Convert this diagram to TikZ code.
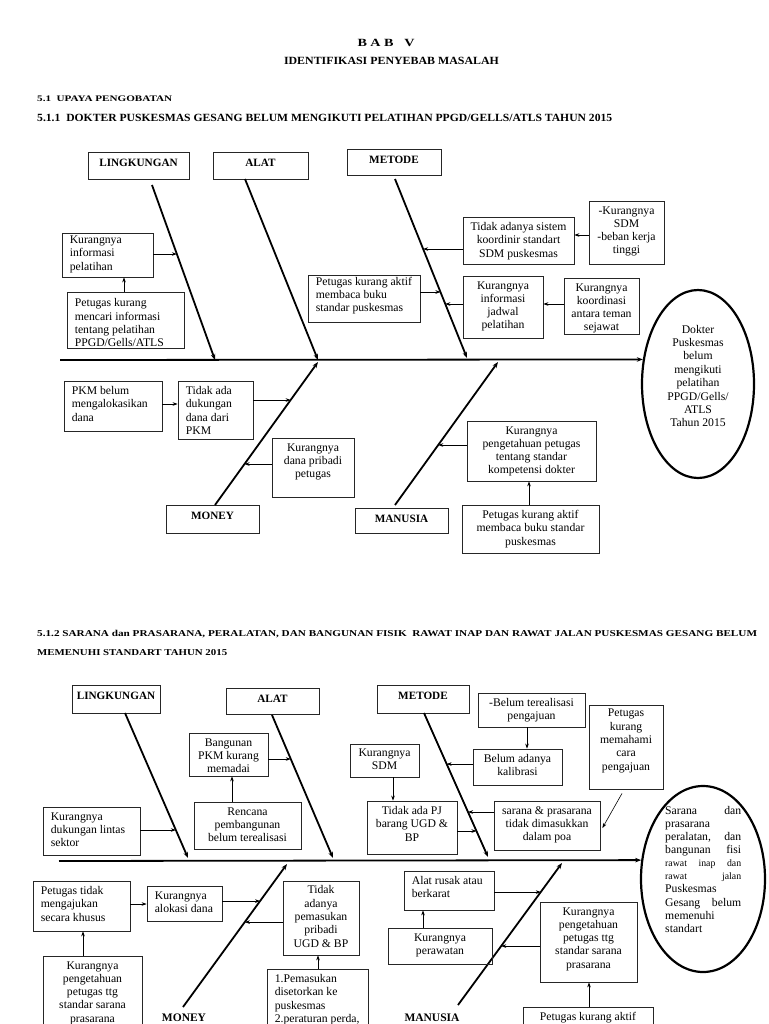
\documentclass[tikz,border=0pt]{standalone}
\usepackage{fontspec}
\setmainfont{Liberation Serif}
\usepackage{graphicx}
\usetikzlibrary{arrows.meta,shapes.geometric,fit,calc}

\tikzset{
 box/.style={draw=black!85, inner sep=0pt, line width=0.8pt},
 txtc/.style={inner sep=0pt, align=center, font=\fontsize{11.7}{13.3}\selectfont},
 txtl/.style={inner sep=0pt, align=left, font=\fontsize{11.7}{13.3}\selectfont},
 hdrt/.style={inner sep=0pt, font=\bfseries\fontsize{11.2}{12}\selectfont},
 arr/.style={line width=0.6pt, -{Stealth[length=5pt,width=3.6pt]}},
 bone/.style={line width=1.8pt, -{Stealth[length=6pt,width=4.5pt]}},
 spine/.style={line width=1.8pt, -{Stealth[length=6pt,width=4.5pt]}},
 oval/.style={ellipse, draw, line width=2.2pt, inner sep=0pt},
 ttl/.style={inner sep=0pt, anchor=west},
}

\newcommand\bxc[7][5.6]{%
  \node[box, fit={(#3,#4) (#5,#6)}] (#2) {};
  \node[txtc, anchor=north] (#2-t) at ([yshift=-#1pt]#2.north) {#7};}
\newcommand\bxl[7][5.6]{%
  \node[box, fit={(#3,#4) (#5,#6)}] (#2) {};
  \node[txtl, anchor=north west] (#2-t) at ([shift={(8pt,-#1pt)}]#2.north west) {#7};}
\newcommand\hdr[6]{%
  \node[box, fit={(#2,#3) (#4,#5)}] (#1) {};
  \node[hdrt, anchor=north] (#1-t) at ([yshift=-7pt]#1.north) {#6};}
\newcommand\hit[3]{\coordinate (#1) at (intersection of #2s--#2e and 0,#3--768,#3);}

\begin{document}
\begin{tikzpicture}[x=1pt,y=-1pt]
\useasboundingbox (0,0) rectangle (768,1024);
\clip (0,0) rectangle (768,1024);
\fill[white] (0,0) rectangle (768,1024);

% ---------- page headings ----------
\node[inner sep=0pt] (bab) at (386,43) {\resizebox{57pt}{\height}{\bfseries\fontsize{11}{12}\selectfont B A B \ \ V}};
\node[inner sep=0pt] (ident) at (391.5,61) {\resizebox{215pt}{\height}{\bfseries\fontsize{11}{12}\selectfont IDENTIFIKASI PENYEBAB MASALAH}};
\node[ttl] (s51) at (37,99) {\resizebox{135pt}{\height}{\bfseries\fontsize{8.5}{10}\selectfont 5.1\ \ UPAYA PENGOBATAN}};
\node[ttl] (s511) at (37,118) {\resizebox{575pt}{\height}{\bfseries\fontsize{11}{12}\selectfont 5.1.1\ \ DOKTER PUSKESMAS GESANG BELUM MENGIKUTI PELATIHAN PPGD/GELLS/ATLS TAHUN 2015}};
\node[ttl] (s512a) at (37,634) {\resizebox{720pt}{\height}{\bfseries\fontsize{9}{10}\selectfont 5.1.2 SARANA dan PRASARANA, PERALATAN, DAN BANGUNAN FISIK\ \ RAWAT INAP DAN RAWAT JALAN PUSKESMAS GESANG BELUM}};
\node[ttl] (s512b) at (37,653) {\resizebox{190pt}{\height}{\bfseries\fontsize{9}{10}\selectfont MEMENUHI STANDART TAHUN 2015}};

% ================= DIAGRAM 1 =================
\hdr{L1}{88}{152}{189}{179}{LINGKUNGAN}
\hdr{A1}{213}{152}{308}{179}{ALAT}
\hdr{M1}{347}{149}{441}{175}{METODE}
\hdr{MO1}{166}{505}{259}{533}{MONEY}
\hdr{MA1}{355}{508}{448}{533}{MANUSIA}

\coordinate (lb1s) at (152,185);  \coordinate (lb1e) at (215,360);
\coordinate (ab1s) at (245,179);  \coordinate (ab1e) at (318,360);
\coordinate (mb1s) at (395,179);  \coordinate (mb1e) at (467,358);
\coordinate (mob1s) at (215,505); \coordinate (mob1e) at (318,362);
\coordinate (mab1s) at (395,505); \coordinate (mab1e) at (498,362);
\draw[bone] (lb1s) -- (lb1e);
\draw[bone] (ab1s) -- (ab1e);
\draw[bone] (mb1s) -- (mb1e);
\draw[bone] (mob1s) -- (mob1e);
\draw[bone] (mab1s) -- (mab1e);

\node[oval, minimum width=112pt, minimum height=188pt] (e1) at (698,384) {};
\node[txtc, font=\fontsize{11.7}{13.4}\selectfont] (e1-t) at (698,376) {Dokter\\Puskesmas\\belum\\mengikuti\\pelatihan\\PPGD/Gells/\\ATLS\\Tahun 2015};
\coordinate (sp1s) at (60,360);
\draw[spine] (sp1s) -- (e1.156);

\bxl[3.2]{k1}{62}{233}{153}{277}{Kurangnya\\informasi\\pelatihan}
\bxl[7]{p1}{67}{292}{184}{348}{Petugas kurang\\mencari informasi\\tentang pelatihan\\PPGD/Gells/ATLS}
\bxl[2]{pk1}{308}{275}{420}{322}{Petugas kurang aktif\\membaca buku\\standar puskesmas}
\bxc{t1}{463}{217}{574}{264}{Tidak adanya sistem\\koordinir standart\\SDM puskesmas}
\bxc{s1}{589}{201}{664}{264}{-Kurangnya\\SDM\\-beban kerja\\tinggi}
\bxc{j1}{463}{276}{543}{338}{Kurangnya\\informasi\\jadwal\\pelatihan}
\bxc{ko1}{564}{278}{639}{334}{Kurangnya\\koordinasi\\antara teman\\sejawat}
\bxl{pkm1}{64}{381}{162}{431}{PKM belum\\mengalokasikan\\dana}
\bxl{td1}{178}{381}{253}{439}{Tidak ada\\dukungan\\dana dari\\PKM}
\bxc{kd1}{272}{438}{354}{497}{Kurangnya\\dana pribadi\\petugas}
\bxc{kp1}{467}{421}{596}{481}{Kurangnya\\pengetahuan petugas\\tentang standar\\kompetensi dokter}
\bxc{pb1}{462}{505}{599}{553}{Petugas kurang aktif\\membaca buku standar\\puskesmas}

\hit{h1}{lb1}{254} \draw[arr] (k1.east |- h1) -- (h1);
\draw[arr] (p1.north -| 124,0) -- (k1.south -| 124,0);
\hit{h2}{mb1}{292} \draw[arr] (pk1.east |- h2) -- (h2);
\hit{h3}{mb1}{249} \draw[arr] (t1.west |- h3) -- (h3);
\draw[arr] (s1.west |- 0,235) -- (t1.east |- 0,235);
\hit{h4}{mb1}{304} \draw[arr] (j1.west |- h4) -- (h4);
\draw[arr] (ko1.west |- 0,304) -- (j1.east |- 0,304);
\draw[arr] (pkm1.east |- 0,404) -- (td1.west |- 0,404);
\hit{h5}{mob1}{400} \draw[arr] (td1.east |- h5) -- (h5);
\hit{h6}{mob1}{464} \draw[arr] (kd1.west |- h6) -- (h6);
\hit{h7}{mab1}{445} \draw[arr] (kp1.west |- h7) -- (h7);
\draw[arr] (pb1.north -| 529,0) -- (kp1.south -| 529,0);

% ================= DIAGRAM 2 =================
\hdr{L2}{72}{685}{160}{713}{LINGKUNGAN}
\hdr{A2}{226}{688}{319}{714}{ALAT}
\hdr{M2}{377}{685}{469}{713}{METODE}
\node[hdrt, font=\bfseries\fontsize{11.5}{12}\selectfont] (MO2) at (184,1018) {MONEY};
\node[hdrt, font=\bfseries\fontsize{11.5}{12}\selectfont] (MA2) at (432,1018) {MANUSIA};

\coordinate (lb2s) at (125,713);  \coordinate (lb2e) at (188,858);
\coordinate (ab2s) at (272,715);  \coordinate (ab2e) at (333,858);
\coordinate (mb2s) at (424,713);  \coordinate (mb2e) at (488,857);
\coordinate (mob2s) at (183,1007); \coordinate (mob2e) at (287,864);
\coordinate (mab2s) at (458,1005); \coordinate (mab2e) at (562,863);
\draw[bone] (lb2s) -- (lb2e);
\draw[bone] (ab2s) -- (ab2e);
\draw[bone] (mb2s) -- (mb2e);
\draw[bone] (mob2s) -- (mob2e);
\draw[bone] (mab2s) -- (mab2e);

\node[oval, minimum width=124pt, minimum height=186pt] (e2) at (703,879) {};
\node[inner sep=0pt, anchor=north west, font=\fontsize{11.7}{13}\selectfont] (e2-t) at (665,806) {\vbox{\baselineskip=13.1pt\lineskiplimit=-20pt
\hbox to 76pt{Sarana\hfill dan}
\hbox to 76pt{prasarana\hfill}
\hbox to 76pt{peralatan,\hfill dan}
\hbox to 76pt{bangunan\hfill fisi}
\hbox to 76pt{\fontsize{9.8}{10}\selectfont rawat\hfill inap\hfill dan}
\hbox to 76pt{\fontsize{9.8}{10}\selectfont rawat\hfill jalan}
\hbox to 76pt{Puskesmas\hfill}
\hbox to 76pt{Gesang\hfill belum}
\hbox to 76pt{memenuhi\hfill}
\hbox to 76pt{standart\hfill}}};
\coordinate (sp2s) at (59,861);
\draw[spine] (sp2s) -- (e2.163.5);

\bxc{bg2}{189}{733}{268}{776}{Bangunan\\PKM kurang\\memadai}
\bxc{rp2}{194}{802}{301}{849}{Rencana\\pembangunan\\belum terealisasi}
\bxl{kl2}{43}{807}{140}{855}{Kurangnya\\dukungan lintas\\sektor}
\bxc[5]{ks2}{350}{744}{419}{777}{Kurangnya\\SDM}
\bxc{tp2}{367}{801}{457}{854}{Tidak ada PJ\\barang UGD \&\\BP}
\bxc{bt2}{478}{693}{585}{727}{-Belum terealisasi\\pengajuan}
\bxc{bk2}{473}{749}{562}{785}{Belum adanya\\kalibrasi}
\bxc[4.5]{pm2}{589}{705}{663}{789}{Petugas\\kurang\\memahami\\cara\\pengajuan}
\bxc{sp2}{494}{801}{600}{850}{sarana \& prasarana\\tidak dimasukkan\\dalam poa}
\bxl{pt2}{33}{881}{130}{931}{Petugas tidak\\mengajukan\\secara khusus}
\bxl{ka2}{147}{886}{222}{921}{Kurangnya\\alokasi dana}
\bxc{kp2L}{43}{956}{142}{1040}{Kurangnya\\pengetahuan\\petugas ttg\\standar sarana\\prasarana}
\bxc[5]{tp2b}{283}{881}{359}{955}{Tidak\\adanya\\pemasukan\\pribadi\\UGD \& BP}
\bxl{pe2}{267}{969}{368}{1040}{1.Pemasukan\\disetorkan ke\\puskesmas\\2.peraturan perda,}
\bxl{ar2}{404}{871}{494}{910}{Alat rusak atau\\berkarat}
\bxc{kw2}{388}{928}{492}{964}{Kurangnya\\perawatan}
\bxc{kp2R}{540}{902}{637}{982}{Kurangnya\\pengetahuan\\petugas ttg\\standar sarana\\prasarana}
\bxc{pa2}{523}{1007}{653}{1040}{Petugas kurang aktif}

\hit{g1}{lb2}{830} \draw[arr] (kl2.east |- g1) -- (g1);
\hit{g2}{ab2}{759} \draw[arr] (bg2.east |- g2) -- (g2);
\draw[arr] (rp2.north -| 232,0) -- (bg2.south -| 232,0);
\draw[arr] (ks2.south -| 393,0) -- (tp2.north -| 393,0);
\hit{g3}{mb2}{831} \draw[arr] (tp2.east |- g3) -- (g3);
\draw[arr] (bt2.south -| 527,0) -- (bk2.north -| 527,0);
\hit{g4}{mb2}{764} \draw[arr] (bk2.west |- g4) -- (g4);
\hit{g5}{mb2}{812} \draw[arr] (sp2.west |- g5) -- (g5);
\draw[arr] ($(pm2.south)+(-4,4)$) -- ($(sp2.east |- 0,828)+(2,0)$);
\draw[arr] (pt2.east |- 0,904) -- (ka2.west |- 0,904);
\hit{g6}{mob2}{901} \draw[arr] (ka2.east |- g6) -- (g6);
\draw[arr] (kp2L.north -| 83,0) -- (pt2.south -| 83,0);
\hit{g7}{mob2}{922} \draw[arr] (tp2b.west |- g7) -- (g7);
\draw[arr] (pe2.north -| 318,0) -- (tp2b.south -| 318,0);
\hit{g8}{mab2}{892} \draw[arr] (ar2.east |- g8) -- (g8);
\draw[arr] (kw2.north -| 423,0) -- (ar2.south -| 423,0);
\hit{g9}{mab2}{946} \draw[arr] (kp2R.west |- g9) -- (g9);
\draw[arr] (pa2.north -| 589,0) -- (kp2R.south -| 589,0);
\end{tikzpicture}
\end{document}
